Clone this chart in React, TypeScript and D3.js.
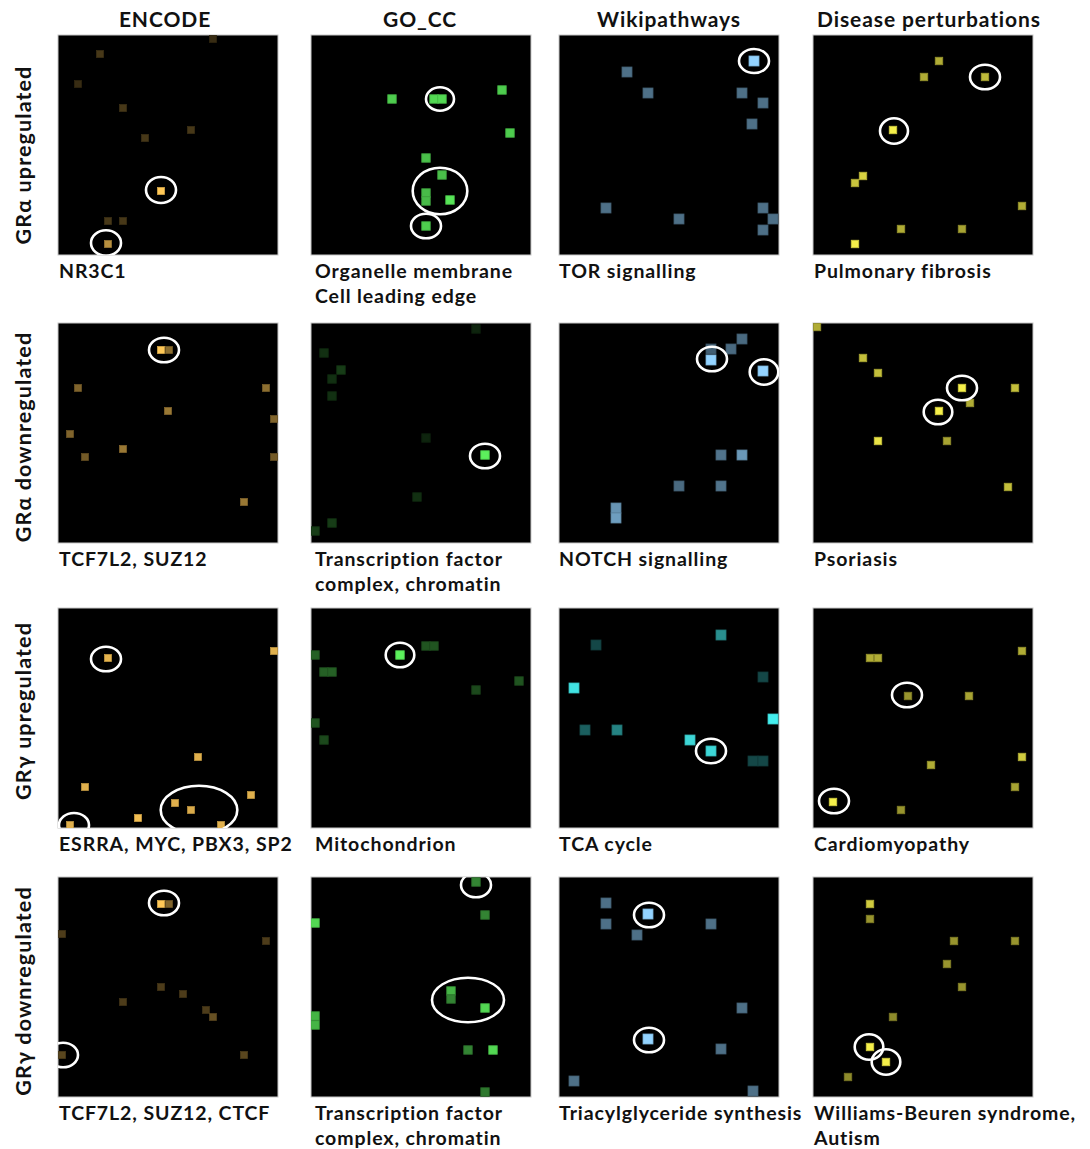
import * as d3 from "d3"

// column / row headings
const libraries = ["ENCODE", "GO_CC", "Wikipathways", "Disease perturbations"]
const signatures = ["GRα upregulated", "GRα downregulated", "GRγ upregulated", "GRγ downregulated"]

// enriched terms shown under each map, row by row
const terms = [
    [["NR3C1"], ["Organelle membrane", "Cell leading edge"], ["TOR signalling"], ["Pulmonary fibrosis"]],
    [["TCF7L2, SUZ12"], ["Transcription factor", "complex, chromatin"], ["NOTCH signalling"], ["Psoriasis"]],
    [["ESRRA, MYC, PBX3, SP2"], ["Mitochondrion"], ["TCA cycle"], ["Cardiomyopathy"]],
    [["TCF7L2, SUZ12, CTCF"], ["Transcription factor", "complex, chromatin"], ["Triacylglyceride synthesis"], ["Williams-Beuren syndrome,", "Autism"]],
]

// grid cells: [x, y, enrichment] in map units (0..220)
const encodeUpA = [[155, 4, 0.22], [42, 19, 0.28], [20, 49, 0.22], [65, 73, 0.28], [133, 95, 0.28], [87, 103, 0.28], [103, 156, 1], [50, 186, 0.28], [65, 186, 0.28], [50, 209, 0.72]]
const goccUpA = [[81, 64, 0.85], [123, 64, 0.9], [131, 64, 0.9], [191, 55, 0.85], [199, 98, 0.85], [115, 123, 0.8], [131, 140, 0.8], [115, 158, 0.78], [115, 166, 0.78], [139, 165, 0.95], [115, 191, 0.85]]
const wikiUpA = [[195, 26, 1], [68, 37, 0.53], [89, 58, 0.53], [183, 58, 0.53], [204, 68, 0.53], [193, 89, 0.53], [47, 173, 0.53], [120, 184, 0.53], [204, 173, 0.53], [214, 184, 0.53], [204, 195, 0.53]]
const diseaseUpA = [[126, 26, 0.72], [111, 42, 0.72], [172, 42, 0.78], [80, 95, 1], [50, 141, 0.88], [42, 148, 0.82], [209, 171, 0.72], [88, 194, 0.72], [149, 194, 0.68], [42, 209, 1]]

const encodeDownA = [[103, 27, 1], [111, 27, 0.55], [20, 65, 0.5], [208, 65, 0.55], [110, 88, 0.6], [216, 96, 0.5], [12, 111, 0.5], [65, 126, 0.6], [27, 134, 0.45], [216, 134, 0.45], [186, 179, 0.6]]
const goccDownA = [[165, 6, 0.15], [13, 30, 0.2], [30, 47, 0.25], [21, 56, 0.2], [21, 73, 0.2], [115, 115, 0.15], [174, 132, 1], [106, 174, 0.2], [21, 200, 0.25], [4, 208, 0.25]]
const wikiDownA = [[183, 16, 0.5], [172, 26, 0.5], [152, 26, 0.45], [152, 37, 1], [204, 48, 1], [162, 132, 0.55], [183, 132, 0.72], [120, 163, 0.5], [162, 163, 0.55], [57, 185, 0.7], [57, 195, 0.75]]
const diseaseDownA = [[4, 4, 0.72], [50, 35, 0.8], [65, 50, 0.8], [149, 65, 1], [202, 65, 0.8], [157, 80, 0.72], [126, 88, 1], [65, 118, 0.95], [134, 118, 0.68], [195, 164, 0.8]]

const encodeUpG = [[50, 50, 0.9], [216, 43, 0.88], [140, 149, 0.88], [27, 179, 0.88], [193, 187, 0.88], [117, 195, 0.88], [133, 202, 0.85], [80, 210, 0.95], [12, 217, 0.88], [163, 217, 0.88]]
const goccUpG = [[89, 47, 1], [115, 38, 0.35], [123, 38, 0.35], [4, 47, 0.4], [13, 64, 0.4], [21, 64, 0.4], [208, 73, 0.35], [165, 82, 0.3], [4, 115, 0.35], [13, 132, 0.3]]
const wikiUpG = [[162, 27, 0.6], [37, 37, 0.3], [15, 80, 0.95], [204, 69, 0.3], [214, 111, 1], [26, 122, 0.4], [58, 122, 0.55], [131, 132, 0.9], [152, 143, 0.9], [194, 153, 0.3], [204, 153, 0.3]]
const diseaseUpG = [[57, 50, 0.72], [65, 50, 0.72], [209, 43, 0.72], [95, 88, 0.62], [156, 88, 0.68], [118, 157, 0.72], [209, 149, 0.85], [202, 179, 0.68], [88, 202, 0.62], [20, 194, 1]]

const encodeDownG = [[103, 27, 1], [111, 27, 0.5], [4, 57, 0.3], [208, 64, 0.3], [103, 110, 0.3], [125, 117, 0.3], [65, 125, 0.3], [148, 133, 0.3], [155, 140, 0.4], [4, 178, 0.35], [186, 178, 0.35]]
const goccDownG = [[165, 5, 0.55], [174, 38, 0.55], [4, 46, 0.9], [140, 114, 0.75], [140, 122, 0.55], [174, 131, 0.9], [4, 139, 0.75], [4, 148, 0.75], [157, 173, 0.55], [182, 173, 0.9], [174, 215, 0.5]]
const wikiDownG = [[47, 26, 0.53], [89, 37, 1], [47, 47, 0.53], [78, 58, 0.53], [152, 47, 0.53], [183, 131, 0.53], [89, 162, 1], [162, 172, 0.53], [15, 204, 0.53], [194, 214, 0.53]]
const diseaseDownG = [[57, 27, 0.85], [57, 42, 0.62], [141, 64, 0.62], [202, 64, 0.62], [134, 87, 0.62], [149, 110, 0.62], [80, 140, 0.58], [57, 170, 1], [73, 185, 1], [35, 200, 0.58]]

// highlighted terms: [cx, cy, rx, ry] in map units
const ringsUpA = [[103, 155, 15, 13], [48, 208, 15, 12.7]]
const ringsGoUpA = [[129, 64, 14, 11.7], [129, 156, 27.3, 23.3], [115, 191, 15, 12.3]]
const ringsWikiUpA = [[195, 26, 15, 12]]
const ringsDisUpA = [[172, 42, 15, 12.3], [81, 96, 14, 12.7]]
const ringsDownA = [[106, 27, 15, 12.3]]
const ringsGoDownA = [[174, 133, 15, 12.3]]
const ringsWikiDownA = [[153, 36, 15, 12.3], [205, 49, 14.3, 12.7]]
const ringsDisDownA = [[149, 65, 15, 12.3], [125, 89, 14.3, 12.3]]
const ringsUpG = [[48, 51, 15, 12.3], [16, 217, 15, 12], [141, 202, 38.3, 24.3]]
const ringsGoUpG = [[89, 47, 14.3, 12.3]]
const ringsWikiUpG = [[152, 143, 15, 12.3]]
const ringsDisUpG = [[94, 87, 15, 12.3], [21, 193, 15, 12.3]]
const ringsDownG = [[106, 26, 15, 12.3], [5, 178, 15, 12.3]]
const ringsGoDownG = [[165, 8, 15, 12.3], [157, 123, 36, 22.3]]
const ringsWikiDownG = [[90, 38, 15, 12.3], [90, 163, 15, 12.3]]
const ringsDisDownG = [[56, 170, 14.3, 12.7], [73, 185, 14.3, 12.7]]

const cells = [
    [encodeUpA, goccUpA, wikiUpA, diseaseUpA],
    [encodeDownA, goccDownA, wikiDownA, diseaseDownA],
    [encodeUpG, goccUpG, wikiUpG, diseaseUpG],
    [encodeDownG, goccDownG, wikiDownG, diseaseDownG],
]
const rings = [
    [ringsUpA, ringsGoUpA, ringsWikiUpA, ringsDisUpA],
    [ringsDownA, ringsGoDownA, ringsWikiDownA, ringsDisDownA],
    [ringsUpG, ringsGoUpG, ringsWikiUpG, ringsDisUpG],
    [ringsDownG, ringsGoDownG, ringsWikiDownG, ringsDisDownG],
]

// layout + style
const W = 1090
const H = 1149
const PANEL = 220
const panelX = [58, 311, 559, 813]
const panelY = [35, 323, 608, 877]
const headerX = [165, 420, 669, 929]
const rowLabelY = [155, 437, 711, 991]
const labelX = [1, 4, 0, 1]
const cellSize = [7, 8.5, 10, 7.5]
const baseColor = ["#ffc857", "#5cf05c", "#93d3ff", "#f5ef4a"]
const font = "Lato, 'Open Sans', sans-serif"

export default function App() {
    const pos = d3.scaleLinear().domain([0, 220]).range([0, PANEL])

    const colorFor = (r: number, c: number, v: number) => {
        const base = c === 2 && r === 2 ? "#44eeee" : baseColor[c]
        return d3.interpolateRgb("#000000", base)(v)
    }

    return (
        <svg width={W} height={H} style={{ position: "absolute", left: 0, top: 0, background: "#fff" }} fontFamily={font}>
            <defs>
                {panelY.map((py, r) =>
                    panelX.map((px, c) => (
                        <clipPath id={`clip-${r}-${c}`} key={`${r}-${c}`}>
                            <rect x={0} y={0} width={PANEL} height={PANEL} />
                        </clipPath>
                    ))
                )}
            </defs>

            {libraries.map((name, c) => (
                <text key={name} x={headerX[c]} y={27} textAnchor="middle" fontSize={21} letterSpacing={0.9} fontWeight={700} fill="#111">
                    {name}
                </text>
            ))}

            {signatures.map((name, r) => (
                <text
                    key={name}
                    transform={`translate(31,${rowLabelY[r]}) rotate(-90)`}
                    textAnchor="middle"
                    fontSize={21.5}
                    letterSpacing={1.1}
                    fontWeight={700}
                    fill="#111"
                >
                    {name}
                </text>
            ))}

            {panelY.map((py, r) =>
                panelX.map((px, c) => {
                    const s = cellSize[c]
                    return (
                        <g key={`${r}-${c}`} transform={`translate(${px},${py})`}>
                            <rect x={0} y={0} width={PANEL} height={PANEL} fill="#000" stroke="#c8c8c8" strokeWidth={1} />
                            <g clipPath={`url(#clip-${r}-${c})`}>
                                {cells[r][c].map(([x, y, v], i) => {
                                    const fill = colorFor(r, c, v)
                                    return (
                                        <rect
                                            key={i}
                                            x={pos(x) - s / 2}
                                            y={pos(y) - s / 2}
                                            width={s}
                                            height={s}
                                            fill={fill}
                                            stroke={d3.color(fill)!.darker(0.5).toString()}
                                            strokeWidth={0.8}
                                        />
                                    )
                                })}
                                {rings[r][c].map(([cx, cy, rx, ry], i) => (
                                    <ellipse key={i} cx={pos(cx)} cy={pos(cy)} rx={pos(rx)} ry={pos(ry)} fill="none" stroke="#fff" strokeWidth={2.6} />
                                ))}
                            </g>
                            {terms[r][c].map((line, i) => (
                                <text key={i} x={labelX[c]} y={PANEL + 23 + i * 25} fontSize={19.5} letterSpacing={0.9} fontWeight={700} fill="#111">
                                    {line}
                                </text>
                            ))}
                        </g>
                    )
                })
            )}
        </svg>
    )
}
